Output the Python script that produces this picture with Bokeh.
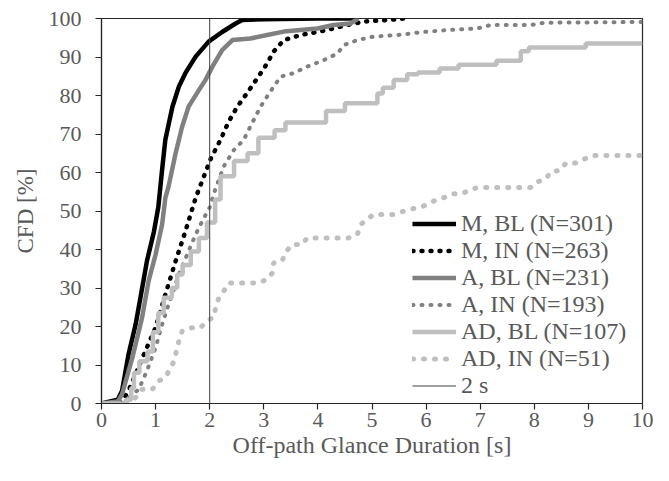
from bokeh.plotting import figure
from bokeh.models import Range1d, FixedTicker, Legend, LegendItem
from bokeh.embed import file_html
from bokeh.resources import INLINE

# ---- data ----
x_ticks = [0, 1, 2, 3, 4, 5, 6, 7, 8, 9, 10]
y_ticks = [0, 10, 20, 30, 40, 50, 60, 70, 80, 90, 100]

m_bl_x = [0, 0.3, 0.38, 0.5, 0.63, 0.72, 0.84, 0.97, 1.05, 1.12, 1.18, 1.31, 1.43, 1.55, 1.74, 1.98, 2.23, 2.48, 2.6, 3.0, 4.0, 4.7]
m_bl_y = [0, 1, 3.3, 12.8, 20.5, 27.5, 37, 44.7, 51, 60.7, 68.5, 77, 82.3, 85.8, 90.1, 94, 96.5, 98.7, 99.6, 99.8, 100, 100]

m_in_x = [0.35, 0.5, 0.81, 1.0, 1.18, 1.37, 1.55, 1.74, 2.01, 2.2, 2.35, 2.51, 2.69, 2.88, 3.06, 3.18, 3.37, 3.68, 3.99, 4.29, 4.54, 4.85, 5.3, 5.6]
m_in_y = [0, 3.3, 13.6, 19.7, 28.3, 37, 44.7, 53.4, 63.3, 68.5, 73.2, 77.1, 80.6, 84.5, 88.3, 91.4, 94.4, 95.7, 96.5, 97.4, 98.3, 99.2, 99.6, 100]

a_bl_x = [0, 0.3, 0.38, 0.57, 0.75, 0.87, 1.0, 1.12, 1.18, 1.24, 1.37, 1.49, 1.61, 1.8, 1.92, 2.05, 2.23, 2.42, 2.75, 3.06, 3.37, 3.68, 3.99, 4.29, 4.6, 4.7, 4.75]
a_bl_y = [0, 0.5, 2.4, 11.9, 22.3, 31.8, 38.7, 46.5, 53.4, 56.4, 65, 71.9, 77.1, 81.4, 84, 87.5, 91.8, 94.4, 94.8, 95.7, 96.6, 97, 97.4, 98.3, 98.7, 99.6, 100]

a_in_x = [0.4, 0.47, 0.69, 0.84, 1.0, 1.12, 1.24, 1.43, 1.61, 1.74, 1.86, 2.01, 2.08, 2.26, 2.45, 2.63, 2.75, 2.94, 3.12, 3.31, 3.55, 3.8, 4.11, 4.36, 4.48, 4.73, 5.03, 5.47, 5.96, 6.39, 6.94, 7.19, 7.93, 8.18, 10]
a_in_y = [0, 1.1, 3.7, 8.5, 14.5, 20.5, 25.7, 33.5, 39.6, 43.9, 47.3, 51.2, 54.7, 61.6, 65.9, 68.5, 71.9, 77.1, 81, 84.9, 85.8, 87.5, 89.2, 90.9, 93.1, 94.4, 95.3, 95.7, 96.5, 97, 97.4, 98.3, 98.3, 98.9, 99.1]

ad_bl_x = [0, 0.45, 0.55, 0.6, 0.7, 0.85, 0.95, 1.05, 1.15, 1.3, 1.4, 1.5, 1.65, 1.8, 1.95, 2.1, 2.2, 2.45, 2.7, 2.9, 3.2, 3.4, 4.15, 4.5, 5.1, 5.2, 5.4, 5.65, 5.85, 6.25, 6.6, 7.3, 7.75, 7.9, 8.95, 10]
ad_bl_y = [0, 1, 4, 8, 11, 13.5, 18.5, 23.5, 27.5, 30, 33.5, 36, 39.5, 43, 47, 53, 59, 63, 65, 69, 71, 73, 76, 78, 80.5, 82, 84, 85.5, 86, 87, 88, 89, 91.5, 92.5, 93.5, 93.5]

ad_in_x = [0.45, 0.6, 0.75, 0.94, 1.06, 1.18, 1.34, 1.43, 1.49, 1.68, 1.83, 1.95, 2.08, 2.11, 2.17, 2.26, 2.35, 2.91, 3.06, 3.16, 3.18, 3.34, 3.42, 3.52, 3.71, 3.8, 4.57, 4.73, 4.79, 4.91, 5.03, 5.4, 5.72, 5.91, 6.16, 6.35, 6.51, 6.67, 6.79, 6.95, 7.93, 8.06, 8.21, 8.31, 8.47, 8.59, 8.78, 8.91, 9.06, 10]
ad_in_y = [0, 1, 3.7, 3.7, 5.9, 6.7, 11, 16.2, 18.8, 19.7, 19.7, 21.4, 22.5, 24.9, 27.5, 29.2, 31.3, 31.3, 32.3, 33.9, 36.5, 37.1, 39.6, 41.3, 41.3, 43, 43, 43.9, 46.5, 47.8, 49.1, 49.1, 50.5, 51, 52.7, 53.6, 54.5, 54.5, 55.4, 56.1, 56.1, 57.6, 58.3, 60.3, 60.5, 62.5, 62.5, 63.4, 64.4, 64.4]

ref_x = [2, 2]
ref_y = [0, 100]

labels = ["M, BL (N=301)", "M, IN (N=263)", "A, BL (N=231)", "A, IN (N=193)",
          "AD, BL (N=107)", "AD, IN (N=51)", "2 s"]

FONT = "'Liberation Serif', 'Times New Roman', serif"
TXT = "#595959"

p = figure(width=653, height=465, output_backend="svg", toolbar_location=None,
           x_range=Range1d(0, 10), y_range=Range1d(0, 100),
           min_border_left=101, min_border_right=11, min_border_top=18, min_border_bottom=62)
p.grid.visible = False
p.outline_line_color = "#262626"
p.outline_line_width = 1.2
p.background_fill_color = "white"
p.border_fill_color = "white"

p.xaxis.ticker = FixedTicker(ticks=x_ticks)
p.yaxis.ticker = FixedTicker(ticks=y_ticks)
for ax in (p.xaxis[0], p.yaxis[0]):
    ax.minor_tick_line_color = None
    ax.major_tick_in = 0
    ax.major_tick_out = 6
    ax.major_tick_line_color = "#262626"
    ax.axis_line_color = "#262626"
    ax.axis_line_width = 1.2
    ax.major_tick_line_width = 1.2
    ax.major_label_text_font = FONT
    ax.major_label_text_font_size = "22px"
    ax.major_label_text_color = TXT
    ax.axis_label_text_font = FONT
    ax.axis_label_text_font_style = "normal"
    ax.axis_label_text_color = TXT
p.xaxis.axis_label = "Off-path Glance Duration [s]"
p.yaxis.axis_label = "CFD [%]"
p.xaxis.axis_label_text_font_size = "24px"
p.yaxis.axis_label_text_font_size = "23px"
p.xaxis.major_label_standoff = 3
p.yaxis.major_label_standoff = 14
p.xaxis.axis_label_standoff = 2
p.yaxis.axis_label_standoff = 8

r1 = p.line(m_bl_x, m_bl_y, line_color="black", line_width=4.5, line_join="round")
r2 = p.line(m_in_x, m_in_y, line_color="black", line_width=4.5, line_dash="1 8", line_cap="round")
r3 = p.line(a_bl_x, a_bl_y, line_color="#808080", line_width=4.5, line_join="round")
r4 = p.line(a_in_x, a_in_y, line_color="#808080", line_width=4, line_dash="1 8", line_cap="round")
r5 = p.step(ad_bl_x, ad_bl_y, mode="after", line_color="#bfbfbf", line_width=4.5)
r6 = p.line(ad_in_x, ad_in_y, line_color="#bfbfbf", line_width=5, line_dash="1 10", line_cap="round")
r7 = p.line(ref_x, ref_y, line_color="#404040", line_width=1)

renderers = [r1, r2, r3, r4, r5, r6, r7]
legend = Legend(items=[LegendItem(label=l, renderers=[r]) for l, r in zip(labels, renderers)],
                location=(311, 4), padding=0, margin=0, spacing=0,
                glyph_width=44, glyph_height=27, label_height=27, label_standoff=5,
                label_text_font=FONT, label_text_font_size="24px", label_text_color=TXT,
                border_line_color=None, background_fill_alpha=0)
p.add_layout(legend)

open("out.html", "w").write(file_html(p, INLINE))
